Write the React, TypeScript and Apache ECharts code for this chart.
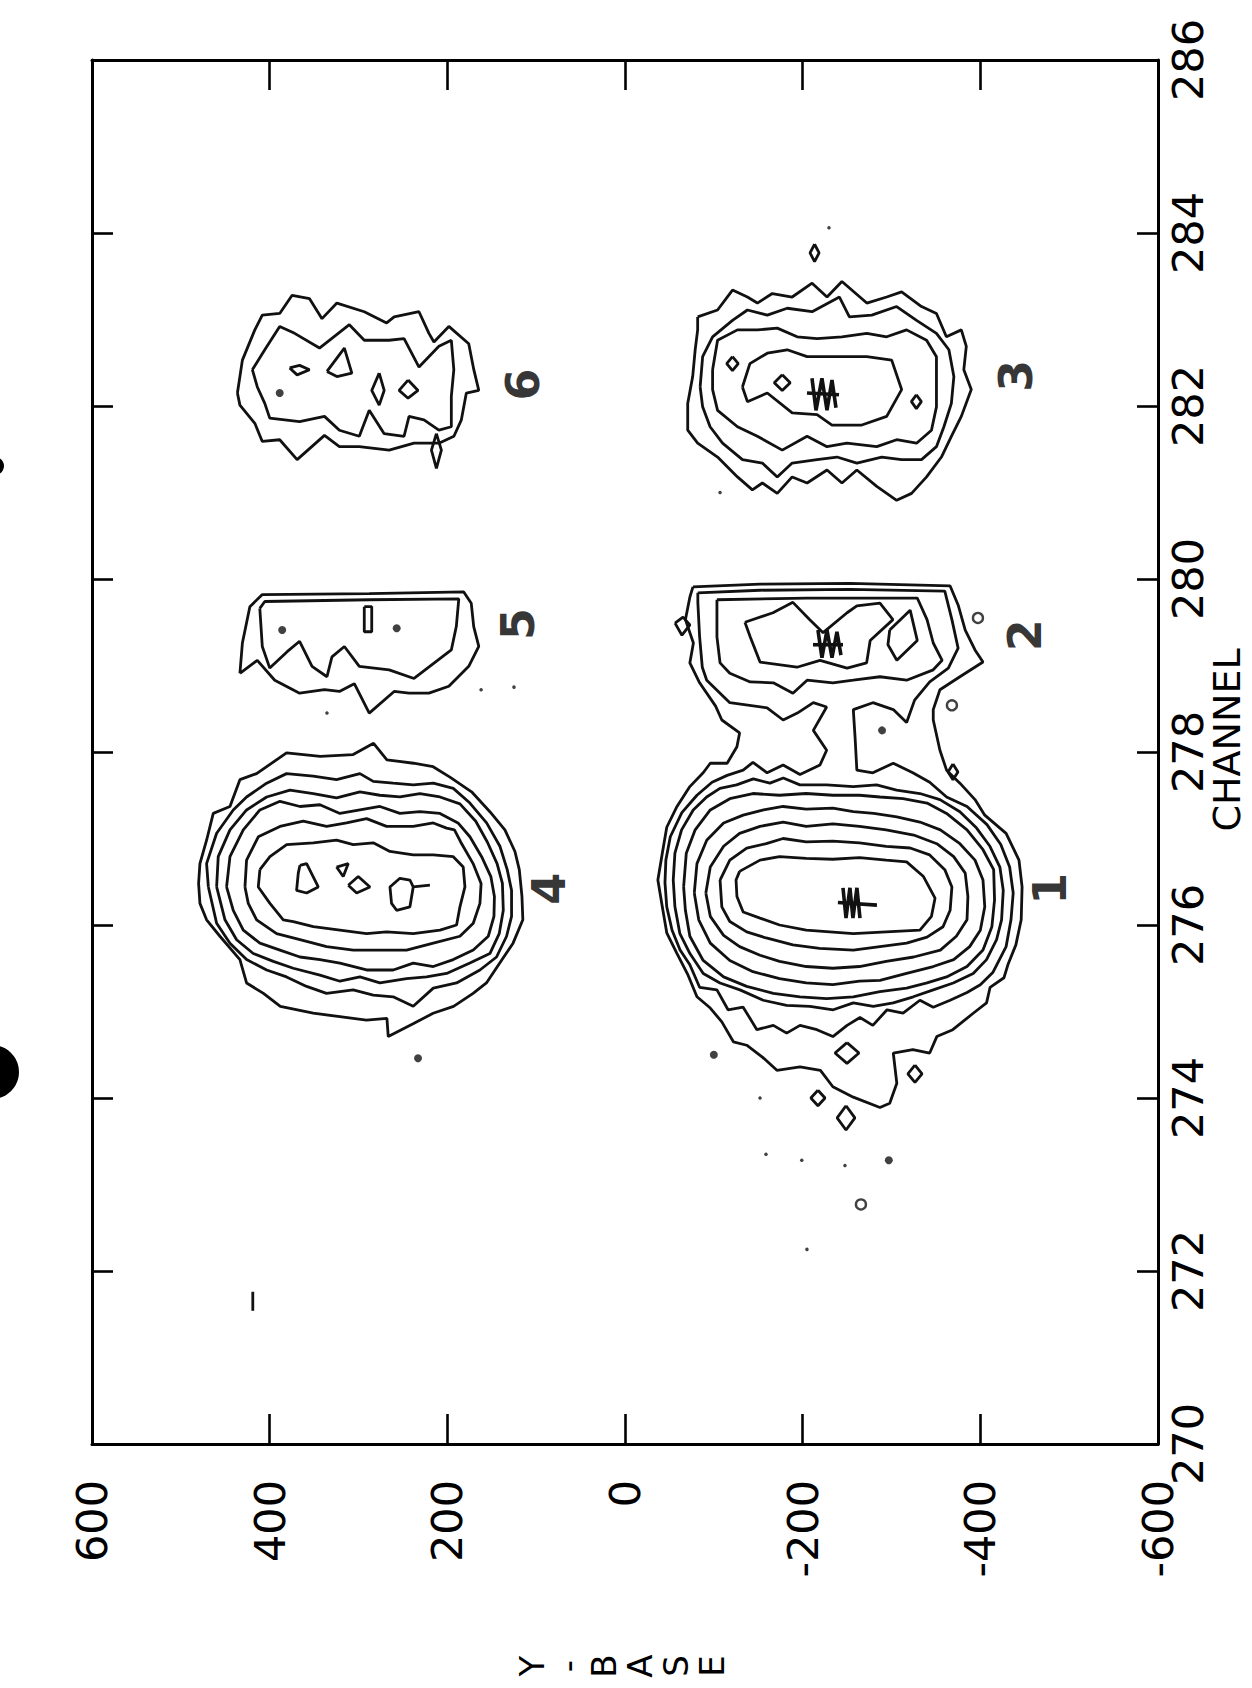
import React, { useEffect, useRef } from "react";
import * as echarts from "echarts";

type Pt = [number, number];

// ---- axes ----
const CHANNEL_MIN = 270;
const CHANNEL_MAX = 286;
const CHANNEL_STEP = 2;
const YBASE_MIN = -600;
const YBASE_MAX = 600;
const YBASE_STEP = 200;

// ---- contours: [Y-BASE, CHANNEL] ----
// peaks 1 + 2, lowest level (one merged outline)
const P12_L1: Pt[] = [
  [-76.5, 279.91], [-152, 279.94], [-253, 279.95], [-366, 279.92], [-375, 279.7], [-383, 279.41], [-394, 279.18],
  [-403, 279.04], [-377, 278.87], [-354.5, 278.72], [-347, 278.49], [-347, 278.37], [-354.5, 278.02], [-362, 277.79],
  [-377, 277.64], [-394, 277.45], [-405, 277.27], [-429, 277.06], [-443.5, 276.75], [-447, 276.44], [-446, 276.06],
  [-440, 275.77], [-431, 275.54], [-426.6, 275.39], [-411, 275.28], [-407, 275.1], [-392, 274.98], [-369, 274.79],
  [-351, 274.71], [-343, 274.52], [-324, 274.56], [-302, 274.52], [-306, 274.17], [-298, 273.94], [-287, 273.89],
  [-257, 274.01], [-234, 274.13], [-220, 274.32], [-197, 274.36], [-171, 274.32], [-155, 274.47], [-137, 274.61],
  [-122, 274.65], [-109, 274.88], [-96, 275.04], [-81, 275.17], [-71, 275.42], [-58, 275.68], [-47, 275.91],
  [-42, 276.21], [-37, 276.52], [-42, 276.83], [-47, 277.13], [-58, 277.36], [-73, 277.6], [-88, 277.76],
  [-96, 277.87], [-115, 277.87], [-126, 278.06], [-129, 278.22], [-109, 278.37], [-102, 278.53], [-84, 278.8],
  [-73, 279.03], [-77, 279.26], [-68, 279.53], [-73, 279.79],
];
// peaks 1 + 2, second level (merged through the neck)
const P12_L2: Pt[] = [
  [-82, 279.84], [-152, 279.87], [-253, 279.88], [-360, 279.86], [-368, 279.53], [-375, 279.2], [-364, 278.97],
  [-343, 278.81], [-326, 278.6], [-317, 278.34], [-302, 278.49], [-279, 278.57], [-257, 278.49], [-259, 278.17],
  [-261, 277.79], [-279, 277.76], [-302, 277.87], [-324, 277.76], [-343, 277.65], [-362, 277.48], [-385, 277.37],
  [-407.5, 277.16], [-423, 276.93], [-433, 276.67], [-437, 276.37], [-434.5, 276.06], [-429, 275.75], [-414, 275.45],
  [-400, 275.31], [-385, 275.22], [-366, 275.13], [-347, 275.05], [-332, 275.13], [-313, 274.98], [-295, 275.02],
  [-279, 274.84], [-264.5, 274.93], [-250, 274.84], [-234, 274.71], [-216, 274.79], [-197, 274.84], [-182, 274.75],
  [-167, 274.84], [-148.5, 274.79], [-133, 275.05], [-116, 275.02], [-103.5, 275.25], [-84, 275.28], [-73, 275.54],
  [-62, 275.71], [-53, 275.94], [-47, 276.21], [-45, 276.49], [-46, 276.75], [-51, 277.02], [-64, 277.3],
  [-81, 277.5], [-98, 277.65], [-115, 277.73], [-133, 277.79], [-144, 277.88], [-160, 277.76], [-178, 277.85],
  [-197, 277.74], [-219.5, 277.85], [-227, 278.02], [-212, 278.25], [-227, 278.52], [-212, 278.57], [-194, 278.45],
  [-178, 278.37], [-160, 278.51], [-118, 278.57], [-92, 278.83], [-87, 278.98], [-84, 279.33], [-82, 279.73],
];
const P1_R3: Pt[] = [
  [-54.3, 276.52], [-56.2, 276.83], [-63.7, 277.1], [-76.8, 277.33], [-91.9, 277.48], [-106.9, 277.58], [-125.6, 277.62],
  [-144.4, 277.69], [-163.1, 277.64], [-178.2, 277.7], [-196.9, 277.62], [-226.9, 277.62], [-257, 277.6], [-283.2, 277.62],
  [-305.7, 277.56], [-332, 277.52], [-354.5, 277.45], [-377, 277.31], [-395.8, 277.12], [-410.8, 276.91], [-422, 276.67],
  [-425.8, 276.4], [-423.9, 276.06], [-418.3, 275.83], [-407, 275.6], [-392, 275.44], [-369.5, 275.33], [-347, 275.25],
  [-324.5, 275.17], [-302, 275.1], [-279.5, 275.06], [-257, 275.1], [-234.4, 275.02], [-208.2, 275.06], [-181.9, 275.07],
  [-155.6, 275.13], [-129.4, 275.25], [-106.9, 275.33], [-88.1, 275.44], [-73.1, 275.67], [-61.8, 275.9], [-56.2, 276.21],
];
const P1_R4: Pt[] = [
  [-66, 276.44], [-69, 276.83], [-79, 277.1], [-96, 277.33], [-118, 277.46], [-144, 277.52], [-174, 277.5], [-204, 277.52],
  [-234, 277.5], [-264, 277.5], [-287, 277.48], [-313, 277.46], [-340, 277.41], [-362, 277.29], [-385, 277.1], [-403, 276.87],
  [-415, 276.64], [-416, 276.29], [-413, 275.98], [-403, 275.71], [-385, 275.52], [-362, 275.4], [-340, 275.33], [-317, 275.27],
  [-287, 275.23], [-257, 275.17], [-227, 275.15], [-197, 275.17], [-167, 275.21], [-137, 275.29], [-111, 275.4], [-88, 275.59],
  [-73, 275.87], [-68, 276.17],
];
const P1_R5: Pt[] = [
  [-78, 276.37], [-81, 276.71], [-92, 276.98], [-111, 277.18], [-133, 277.27], [-156, 277.33], [-178, 277.37], [-204, 277.34],
  [-234, 277.35], [-257, 277.31], [-280, 277.29], [-306, 277.25], [-332, 277.19], [-355, 277.1], [-377, 276.94], [-394, 276.75],
  [-403, 276.52], [-405, 276.21], [-400, 275.94], [-388, 275.75], [-370, 275.6], [-347, 275.52], [-317, 275.44], [-287, 275.36],
  [-264, 275.35], [-234, 275.31], [-204, 275.33], [-174, 275.38], [-144, 275.46], [-118, 275.59], [-96, 275.79], [-83, 276.06],
];
const P1_R6: Pt[] = [
  [-91, 276.37], [-96, 276.67], [-111, 276.91], [-129, 277.06], [-152, 277.14], [-178, 277.19], [-204, 277.14], [-234, 277.17],
  [-264, 277.14], [-294, 277.1], [-325, 277.04], [-351, 276.94], [-370, 276.79], [-383, 276.6], [-386, 276.33], [-385, 276.06],
  [-373, 275.87], [-355, 275.71], [-325, 275.63], [-294, 275.58], [-264, 275.52], [-234, 275.5], [-204, 275.52], [-174, 275.58],
  [-152, 275.65], [-129, 275.75], [-111, 275.88], [-96, 276.1],
];
const P1_R7: Pt[] = [
  [-107, 276.52], [-118, 276.75], [-137, 276.89], [-159, 276.94], [-178, 277.0], [-204, 276.96], [-234, 276.97], [-264, 276.95],
  [-294, 276.91], [-321, 276.89], [-343, 276.81], [-360, 276.64], [-368, 276.44], [-366, 276.17], [-358, 275.98], [-340, 275.86],
  [-317, 275.79], [-287, 275.75], [-257, 275.71], [-219, 275.73], [-189, 275.77], [-159, 275.85], [-137, 275.92], [-118, 276.04],
  [-109, 276.21],
];
const P1_R8: Pt[] = [
  [-129, 276.62], [-152, 276.75], [-174, 276.79], [-204, 276.77], [-234, 276.76], [-264, 276.78], [-294, 276.75], [-317, 276.73],
  [-336, 276.56], [-349, 276.31], [-345, 276.1], [-332, 275.94], [-294, 275.92], [-257, 275.9], [-204, 275.94], [-174, 276.0],
  [-152, 276.08], [-133, 276.15], [-126, 276.33], [-125, 276.52],
];
const P2_R3: Pt[] = [
  [-103.5, 279.76], [-205, 279.78], [-329, 279.78], [-340, 279.53], [-347, 279.26], [-357, 279.06], [-347, 278.95],
  [-317, 278.83], [-287, 278.87], [-257, 278.83], [-234, 278.8], [-205, 278.83], [-189, 278.68], [-167, 278.8],
  [-141, 278.81], [-118, 278.91], [-107, 279.03], [-103.5, 279.33],
];
const P2_R4: Pt[] = [
  [-135, 279.5], [-166.6, 279.61], [-189, 279.73], [-208, 279.53], [-223, 279.38], [-250, 279.61], [-261, 279.69],
  [-287, 279.72], [-301.6, 279.53], [-276, 279.29], [-272, 279.03], [-250, 278.97], [-219.5, 279.06], [-193.6, 278.98],
  [-152, 279.04], [-141, 279.33],
];
const P2_R4B: Pt[] = [[-298, 279.41], [-321, 279.64], [-329, 279.29], [-306, 279.06], [-296, 279.24]];
const P2_LOOP: Pt[] = [[-56.3, 279.49], [-65.3, 279.56], [-73.1, 279.47], [-64.1, 279.35]];
const P12_D1: Pt[] = [[-249.9, 274.64], [-263.4, 274.52], [-249.9, 274.4], [-236.4, 274.52]];
const P12_D2: Pt[] = [[-326.4, 274.38], [-334.4, 274.28], [-326.4, 274.18], [-318.4, 274.28]];
const P12_D3: Pt[] = [[-217.2, 274.09], [-225.2, 274.0], [-217.2, 273.91], [-209.2, 274.0]];
const P12_D4: Pt[] = [[-248.8, 273.91], [-258.8, 273.77], [-248.8, 273.63], [-238.8, 273.77]];
const P12_D5: Pt[] = [[-369.2, 277.86], [-374.8, 277.77], [-369.2, 277.68], [-363.6, 277.77]];

const P3_R1: Pt[] = [
  [-81.8, 283.03], [-104.2, 283.11], [-121, 283.34], [-137.8, 283.26], [-149, 283.19], [-165.8, 283.3], [-188.2, 283.26],
  [-210.6, 283.42], [-227.4, 283.26], [-244.2, 283.44], [-272.2, 283.19], [-294.6, 283.26], [-311.4, 283.32], [-333.8, 283.15],
  [-350.6, 283.07], [-361.8, 282.8], [-378.6, 282.88], [-384.2, 282.69], [-381.4, 282.42], [-389.8, 282.19], [-378.6, 281.88],
  [-367.4, 281.65], [-356.2, 281.41], [-339.5, 281.18], [-322.6, 280.99], [-305.8, 280.91], [-283.4, 281.07], [-261, 281.26],
  [-244.2, 281.11], [-227.4, 281.26], [-205, 281.11], [-188.2, 281.18], [-171.4, 280.99], [-154.6, 281.11], [-143.4, 281.03],
  [-126.6, 281.18], [-104.2, 281.41], [-81.8, 281.57], [-70.6, 281.72], [-70.6, 282.03], [-76.2, 282.34], [-79, 282.65],
  [-81.8, 282.88],
];
const P3_R2: Pt[] = [
  [-84.6, 282.22], [-87.4, 282.57], [-98.6, 282.8], [-121, 282.99], [-137.8, 283.11], [-160.2, 283.05], [-182.6, 283.13],
  [-210.6, 283.09], [-241.4, 283.26], [-252.6, 283.03], [-277.8, 283.05], [-305.8, 283.15], [-328.2, 282.99], [-350.6, 282.84],
  [-364.6, 282.65], [-370.2, 282.34], [-367.4, 282.03], [-359, 281.76], [-350.6, 281.53], [-333.8, 281.38], [-311.4, 281.38],
  [-289, 281.41], [-261, 281.34], [-238.6, 281.41], [-216.2, 281.38], [-188.2, 281.34], [-171.4, 281.18], [-154.6, 281.34],
  [-132.2, 281.38], [-109.8, 281.57], [-95.8, 281.76], [-87.4, 281.99],
];
const P3_R3: Pt[] = [
  [-98.6, 282.42], [-104.2, 282.76], [-126.6, 282.88], [-149, 282.88], [-171.4, 282.9], [-193.8, 282.8], [-216.2, 282.78],
  [-244.2, 282.8], [-272.2, 282.84], [-294.6, 282.8], [-317, 282.88], [-339.5, 282.76], [-350.6, 282.57], [-350.6, 282.3],
  [-350.6, 281.99], [-345, 281.72], [-328.2, 281.57], [-305.8, 281.61], [-283.4, 281.53], [-249.8, 281.57], [-227.4, 281.53],
  [-205, 281.65], [-177, 281.49], [-149, 281.65], [-126.6, 281.76], [-104.2, 281.95], [-98.6, 282.19],
];
const P3_R4: Pt[] = [
  [-132.2, 282.22], [-140.6, 282.49], [-160.2, 282.61], [-182.6, 282.65], [-205, 282.57], [-238.6, 282.57], [-272.2, 282.57],
  [-300.2, 282.53], [-311.4, 282.19], [-294.6, 281.88], [-266.6, 281.78], [-233, 281.78], [-216.2, 281.9], [-188.2, 281.92],
  [-160.2, 282.15], [-137.8, 282.05],
];
const P3_LOOP_A: Pt[] = [[-121, 282.57], [-127.5, 282.49], [-121, 282.41], [-114.5, 282.49]];
const P3_LOOP_B: Pt[] = [[-177, 282.36], [-186, 282.27], [-177, 282.18], [-168, 282.27]];
const P3_LOOP_C: Pt[] = [[-328, 282.13], [-333.6, 282.05], [-328, 281.97], [-322.4, 282.05]];
const P3_LOOP_TOP: Pt[] = [[-213.4, 283.87], [-218.5, 283.77], [-213.4, 283.67], [-208.3, 283.77]];

const P4_R1: Pt[] = [
  [480, 276.48], [478.5, 276.71], [471, 276.98], [463.5, 277.29], [444.7, 277.37], [433.5, 277.68], [414.7, 277.75],
  [381, 277.99], [343, 277.95], [306, 277.97], [283, 278.1], [268, 277.91], [238, 277.87], [216, 277.83], [197.1, 277.71],
  [172.7, 277.54], [152.1, 277.31], [135.2, 277.1], [123.9, 276.85], [119, 276.64], [116, 276.33], [115, 276.06],
  [126, 275.79], [141, 275.56], [156, 275.33], [171, 275.21], [193, 275.06], [216, 274.98], [238, 274.86],
  [266.5, 274.71], [268, 274.92], [291, 274.9], [321, 274.94], [351, 274.98], [388, 275.06], [407, 275.21],
  [426, 275.33], [433.5, 275.6], [456, 275.87], [471, 276.06], [478.5, 276.25],
];
const P4_R2: Pt[] = [
  [469, 276.44], [471, 276.71], [459.7, 277.06], [441, 277.33], [426, 277.48], [403.4, 277.64], [381, 277.75],
  [351, 277.72], [324.7, 277.68], [298.4, 277.75], [283.4, 277.66], [261, 277.64], [238.4, 277.62], [215.8, 277.64],
  [193.3, 277.58], [174.6, 277.41], [155.8, 277.18], [140.8, 276.91], [132.6, 276.64], [127.7, 276.4], [127.7, 276.1],
  [133.3, 275.87], [144.6, 275.63], [163.3, 275.48], [189.6, 275.33], [215.8, 275.27], [238.4, 275.06], [261, 275.17],
  [283.4, 275.19], [306, 275.25], [336, 275.21], [358.4, 275.29], [381, 275.4], [403.4, 275.48], [426, 275.6],
  [444.7, 275.79], [459.7, 276.02],
];
const P4_R3: Pt[] = [
  [459.7, 276.44], [457.9, 276.79], [444.7, 277.1], [426, 277.33], [403.4, 277.48], [377.2, 277.56], [350.9, 277.52],
  [324.7, 277.47], [298.4, 277.54], [275.9, 277.5], [253.4, 277.48], [230.9, 277.52], [208.3, 277.48], [185.8, 277.4],
  [168, 277.2], [155, 276.96], [144, 276.71], [138, 276.48], [137, 276.17], [141.6, 275.9], [152.1, 275.67],
  [174.6, 275.56], [200.8, 275.44], [223.4, 275.4], [245.9, 275.38], [275.9, 275.33], [298.4, 275.4], [320.9, 275.35],
  [343.4, 275.42], [373.4, 275.5], [395.9, 275.58], [418.5, 275.67], [437.2, 275.83], [450.3, 276.06],
];
const P4_R4: Pt[] = [
  [448.5, 276.44], [444.7, 276.79], [429.7, 277.1], [411, 277.33], [388.4, 277.43], [365.9, 277.37], [343.4, 277.39],
  [320.9, 277.29], [298.4, 277.33], [275.9, 277.37], [253.4, 277.29], [230.9, 277.31], [208.3, 277.29], [188, 277.18],
  [174.6, 277.02], [161.4, 276.79], [151, 276.56], [147, 276.33], [147.5, 276.1], [153.9, 275.87], [170.8, 275.71],
  [193.3, 275.6], [215.8, 275.52], [238.4, 275.56], [260.9, 275.48], [290.9, 275.48], [320.9, 275.56], [343.4, 275.6],
  [365.9, 275.63], [388.4, 275.71], [411, 275.79], [429.7, 275.94], [441, 276.17],
];
const P4_R5: Pt[] = [
  [427.8, 276.44], [426, 276.75], [412.8, 277.02], [388.4, 277.14], [362.2, 277.2], [335.9, 277.14], [313.4, 277.18],
  [290.9, 277.23], [268.4, 277.14], [238.4, 277.14], [215.8, 277.18], [200.8, 277.12], [192, 277.1], [185, 276.96],
  [171, 276.71], [162, 276.48], [163.3, 276.25], [170.8, 276.02], [185.8, 275.87], [215.8, 275.79], [245.9, 275.71],
  [275.9, 275.71], [305.9, 275.71], [335.9, 275.75], [365.9, 275.83], [392.2, 275.9], [414.7, 276.06], [424.1, 276.25],
];
const P4_R6: Pt[] = [
  [411, 276.64], [399.7, 276.79], [380.9, 276.93], [350.9, 276.95], [324.7, 276.98], [305.9, 276.93], [283.4, 276.95],
  [264.6, 276.85], [238.4, 276.81], [215.8, 276.81], [193.3, 276.79], [182.1, 276.67], [180.2, 276.44], [185.8, 276.21],
  [189.6, 276.0], [208.3, 275.94], [238.4, 275.9], [268.4, 275.92], [290.9, 275.9], [320.9, 275.94], [350.9, 275.98],
  [373.4, 276.04], [384.7, 276.06], [399.7, 276.25], [412.8, 276.44],
];
const P4_I1: Pt[] = [[365.9, 276.69], [358.4, 276.71], [345.3, 276.44], [358.4, 276.37], [369.7, 276.4], [367.8, 276.6]];
const P4_I2: Pt[] = [[324.7, 276.67], [311.5, 276.71], [317.2, 276.56]];
const P4_I3: Pt[] = [[311.5, 276.46], [300.3, 276.56], [287.1, 276.44], [302.1, 276.37]];
const P4_I4: Pt[] = [
  [219.6, 276.46], [238.4, 276.44], [242.1, 276.52], [253.4, 276.54], [264.6, 276.44], [262.8, 276.25], [257.1, 276.17],
  [242.1, 276.21], [238.4, 276.44],
];

const P5_R1: Pt[] = [
  [433.5, 278.91], [430.7, 279.26], [422.3, 279.68], [408.3, 279.82], [287.9, 279.83], [181.5, 279.85], [173.1, 279.72],
  [170.3, 279.45], [164.6, 279.22], [175.9, 278.99], [198.3, 278.76], [220.7, 278.68], [243.1, 278.68], [259.9, 278.7],
  [287.9, 278.45], [304.7, 278.79], [321.5, 278.7], [338.3, 278.72], [366.3, 278.68], [394.3, 278.83], [413.9, 279.06],
];
const P5_R2: Pt[] = [
  [411.1, 279.66], [405.5, 279.74], [287.9, 279.76], [187.1, 279.77], [189.9, 279.45], [195.5, 279.18], [237.5, 278.85],
  [265.5, 278.95], [299.1, 278.99], [315.9, 279.22], [329.9, 279.1], [335.5, 278.87], [352.3, 278.99], [366.3, 279.28],
  [380.3, 279.16], [399.9, 278.97], [408.3, 279.22],
];
const P5_I1: Pt[] = [[293.5, 279.68], [285.1, 279.68], [285.1, 279.39], [293.5, 279.39]];

const P6_R1: Pt[] = [
  [436.3, 282.15], [430.7, 282.53], [416.7, 282.88], [408.3, 283.05], [388.7, 283.07], [374.7, 283.28], [355.1, 283.24],
  [341.1, 283.01], [324.3, 283.19], [293.5, 283.09], [268.3, 282.96], [259.9, 283.03], [231.9, 283.09], [220.7, 282.84],
  [215.1, 282.74], [198.3, 282.92], [175.9, 282.72], [170.2, 282.42], [164.6, 282.18], [178.6, 282.15], [184.2, 281.84],
  [192.6, 281.65], [209.5, 281.57], [237.5, 281.57], [265.5, 281.49], [299.1, 281.53], [321.5, 281.53], [338.3, 281.66],
  [369.1, 281.38], [388.7, 281.61], [408.3, 281.59], [416.7, 281.8], [433.5, 282.01],
];
const P6_R2: Pt[] = [
  [419.5, 282.42], [405.5, 282.65], [388.7, 282.92], [371.9, 282.84], [343.9, 282.67], [310.3, 282.94], [293.5, 282.76],
  [265.5, 282.76], [248.7, 282.78], [231.9, 282.45], [209.5, 282.69], [195.5, 282.76], [192.7, 282.42], [195.5, 282.11],
  [195.5, 281.76], [209.5, 281.72], [226.3, 281.84], [243.1, 281.88], [248.7, 281.65], [271.1, 281.68], [287.9, 281.95],
  [299.1, 281.65], [321.5, 281.72], [338.3, 281.88], [366.3, 281.82], [399.9, 281.86], [405.5, 282.03], [413.9, 282.22],
];
const P6_I1: Pt[] = [[377.5, 282.44], [366.3, 282.47], [355.1, 282.42], [369.1, 282.36]];
const P6_I2: Pt[] = [[335.5, 282.4], [315.9, 282.67], [307.5, 282.38], [324.3, 282.34]];
const P6_I3: Pt[] = [[276.7, 282.38], [271.1, 282.18], [276.7, 282.01], [285.1, 282.18]];
const P6_I4: Pt[] = [[244.2, 282.3], [233, 282.18], [244.2, 282.09], [254.3, 282.18]];
const P6_I5: Pt[] = [[212.3, 281.68], [206.7, 281.49], [212.3, 281.28], [217.9, 281.49]];

// pen marks at the peak maxima
const MARK1: Pt[] = [[-245.4, 276.43], [-248.8, 276.08], [-253.2, 276.43], [-256.6, 276.08], [-261.1, 276.43], [-264.5, 276.08]];
const MARK1B: Pt[] = [[-239.7, 276.26], [-283.6, 276.23]];
const MARK2: Pt[] = [[-217.2, 279.41], [-221.7, 279.09], [-227.4, 279.41], [-233, 279.09], [-238.6, 279.39], [-243.1, 279.12]];
const MARK2B: Pt[] = [[-211.6, 279.24], [-245.4, 279.24]];
const MARK3: Pt[] = [[-210.5, 282.32], [-215, 281.95], [-221.7, 282.32], [-227.4, 281.95], [-233, 282.3], [-237.5, 281.98]];
const MARK3B: Pt[] = [[-204.9, 282.15], [-240.9, 282.13]];
const DASH: Pt[] = [[419, 271.76], [419, 271.54]];

// isolated points
const DOTS_FILLED: Pt[] = [
  [388.7, 282.15], [385.9, 279.41], [257, 279.43], [233, 274.46], [-100, 274.5], [-297, 273.28], [-289.3, 278.25],
];
const DOTS_SPECK: Pt[] = [
  [335.5, 278.45], [162, 278.72], [125, 278.75], [-152, 274.0], [-158.7, 273.35], [-199, 273.28], [-247.6, 273.22],
  [-204.8, 272.25], [-229.6, 284.06], [-107, 281.0],
];
const DOTS_HOLLOW: Pt[] = [[-397.3, 279.55], [-368, 278.54], [-265.6, 272.77]];

const PEAK_NAMES = ["1", "2", "3", "4", "5", "6"];
const PEAK_LABEL_POS: Pt[] = [
  [-478, 276.42], [-450, 279.35], [-440, 282.35], [85, 276.42], [120, 279.48], [115, 282.25],
];

const CLOSED_CONTOURS: Pt[][] = [
  P12_L1, P12_L2, P1_R3, P1_R4, P1_R5, P1_R6, P1_R7, P1_R8,
  P2_R3, P2_R4, P2_R4B, P2_LOOP, P12_D1, P12_D2, P12_D3, P12_D4, P12_D5,
  P3_R1, P3_R2, P3_R3, P3_R4, P3_LOOP_A, P3_LOOP_B, P3_LOOP_C, P3_LOOP_TOP,
  P4_R1, P4_R2, P4_R3, P4_R4, P4_R5, P4_R6, P4_I1, P4_I2, P4_I3,
  P5_R1, P5_R2, P5_I1,
  P6_R1, P6_R2, P6_I1, P6_I2, P6_I3, P6_I4, P6_I5,
];
const OPEN_STROKES: Pt[][] = [P4_I4, DASH];
const PEN_MARKS: Pt[][] = [MARK1, MARK1B, MARK2, MARK2B, MARK3, MARK3B];

const INK = "#111";
const FONT = "DejaVu Sans";

export default function App() {
  const ref = useRef<HTMLDivElement>(null);

  useEffect(() => {
    if (!ref.current) return;
    const chart = echarts.init(ref.current, null, { renderer: "svg" });

    const lineSeries = (pts: Pt[], closed: boolean, width = 2.8) => ({
      type: "line",
      data: closed ? [...pts, pts[0]] : pts,
      symbol: "none",
      showSymbol: false,
      silent: true,
      clip: false,
      lineStyle: { color: INK, width },
      z: 2,
    });

    const axisLine = { show: true, onZero: false, lineStyle: { color: "#000", width: 3 } };
    const tickStyle = { color: "#000", width: 2.6 };

    const option: any = {
      animation: false,
      backgroundColor: "#fff",
      textStyle: { fontFamily: FONT },
      grid: { left: 92, right: 94, top: 60, bottom: 244, containLabel: false, outerBoundsMode: "none" },
      xAxis: [
        {
          type: "value", min: YBASE_MIN, max: YBASE_MAX, interval: YBASE_STEP, inverse: true, position: "bottom",
          axisLine, axisTick: { show: true, inside: true, length: 30, lineStyle: tickStyle },
          axisLabel: { show: true, rotate: 90, margin: 36, color: "#000", fontSize: 43, fontFamily: FONT, showMinLabel: true, showMaxLabel: true },
          splitLine: { show: false },
        },
        {
          type: "value", min: YBASE_MIN, max: YBASE_MAX, interval: YBASE_STEP, inverse: true, position: "top",
          axisLine, axisTick: { show: true, inside: true, length: 30, lineStyle: tickStyle },
          axisLabel: { show: false }, splitLine: { show: false },
        },
      ],
      yAxis: [
        {
          type: "value", min: CHANNEL_MIN, max: CHANNEL_MAX, interval: CHANNEL_STEP, position: "right",
          axisLine, axisTick: { show: true, inside: true, length: 21, lineStyle: tickStyle },
          axisLabel: { show: true, rotate: 90, margin: 8, color: "#000", fontSize: 43, fontFamily: FONT, showMinLabel: true, showMaxLabel: true },
          splitLine: { show: false },
        },
        {
          type: "value", min: CHANNEL_MIN, max: CHANNEL_MAX, interval: CHANNEL_STEP, position: "left",
          axisLine, axisTick: { show: true, inside: true, length: 21, lineStyle: tickStyle },
          axisLabel: { show: false }, splitLine: { show: false },
        },
      ],
      series: [
        ...CLOSED_CONTOURS.map((c) => lineSeries(c, true)),
        ...OPEN_STROKES.map((c) => lineSeries(c, false)),
        ...PEN_MARKS.map((c) => lineSeries(c, false, 3.6)),
        {
          type: "scatter", data: DOTS_FILLED, symbol: "circle", symbolSize: 8, silent: true,
          itemStyle: { color: INK }, z: 3,
        },
        {
          type: "scatter", data: DOTS_SPECK, symbol: "circle", symbolSize: 3.5, silent: true,
          itemStyle: { color: INK }, z: 3,
        },
        {
          type: "scatter", data: DOTS_HOLLOW, symbol: "circle", symbolSize: 10, silent: true,
          itemStyle: { color: "#fff", borderColor: INK, borderWidth: 2.4 }, z: 3,
        },
        {
          type: "scatter",
          data: PEAK_NAMES.map((n, i) => ({ name: n, value: PEAK_LABEL_POS[i] })),
          symbolSize: 1, silent: true,
          itemStyle: { color: "rgba(0,0,0,0)" },
          label: {
            show: true, position: "inside", formatter: "{b}", rotate: 90,
            fontSize: 46, fontWeight: "bold", fontFamily: FONT, color: "#000",
          },
          z: 4,
        },
      ],
      graphic: [
        {
          type: "text", x: 1227, y: 740, rotation: Math.PI / 2,
          style: { text: "CHANNEL", fontSize: 38, fontFamily: FONT, fill: "#000", align: "center", verticalAlign: "middle" },
        },
        {
          type: "text", x: 622, y: 1666, rotation: Math.PI / 2,
          style: {
            text: "Y\n-\nB\nA\nS\nE", fontSize: 34, lineHeight: 36, fontFamily: FONT, fill: "#000",
            align: "center", verticalAlign: "middle",
          },
        },
        { type: "circle", shape: { cx: -8, cy: 1072, r: 27 }, style: { fill: "#000" } },
        { type: "circle", shape: { cx: -5, cy: 466, r: 9 }, style: { fill: "#000" } },
      ],
    };

    chart.setOption(option);
    return () => chart.dispose();
  }, []);

  return (
    <div
      ref={ref}
      style={{ position: "absolute", left: 0, top: 0, width: 1252, height: 1688, background: "#fff" }}
    />
  );
}
